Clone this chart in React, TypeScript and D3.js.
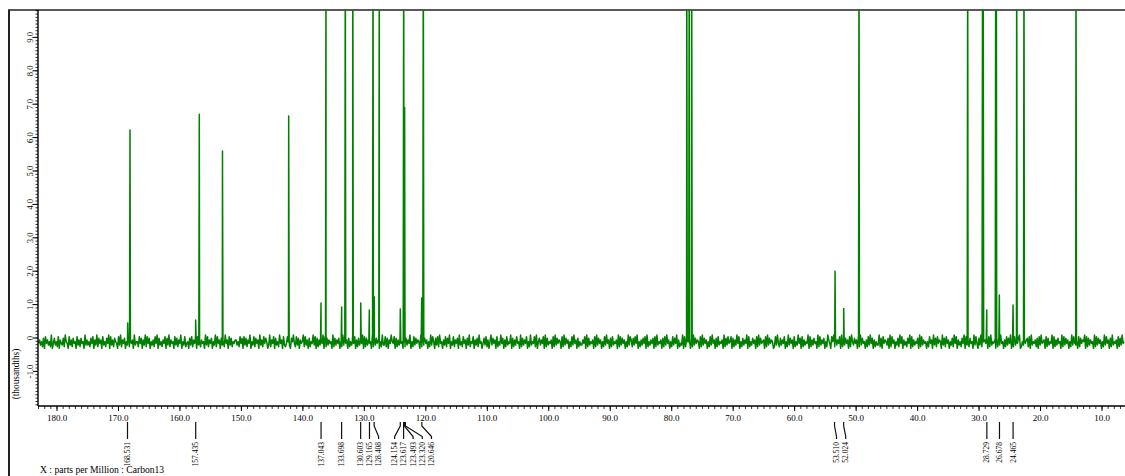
import React from "react";
import * as d3 from "d3";

// ---- data ----
const xTickValues = [180, 170, 160, 150, 140, 130, 120, 110, 100, 90, 80, 70, 60, 50, 40, 30, 20, 10];
const yTickValues = [-1, 0, 1, 2, 3, 4, 5, 6, 7, 8, 9];
const yTickLabels = ["-1.0", "0", "1.0", "2.0", "3.0", "4.0", "5.0", "6.0", "7.0", "8.0", "9.0"];

// peak positions (ppm) and heights (thousandths); 12 = off scale
const peakPpm = [168.5, 168.12, 157.44, 156.85, 153.08, 142.31, 137.05, 136.24, 133.69, 133.1, 131.88, 130.59, 129.19, 128.59, 128.38, 127.57, 124.15, 123.6, 123.45, 120.67, 120.41, 77.55, 77.15, 76.75, 53.43, 52.02, 49.53, 31.85, 29.43, 29.33, 28.75, 27.29, 27.19, 26.7, 24.47, 23.88, 22.69, 14.23];
const peakHeight = [0.45, 6.23, 0.54, 6.7, 5.6, 6.65, 1.05, 12, 0.93, 12, 12, 1.05, 0.84, 12, 1.23, 12, 0.87, 12, 6.9, 1.2, 12, 12, 12, 12, 2.0, 0.88, 12, 12, 12, 12, 0.84, 12, 12, 1.29, 0.99, 12, 12, 12];

// peak pick labels
const labelPpm = [168.531, 157.435, 137.043, 133.698, 130.603, 129.165, 128.408, 124.154, 123.617, 123.493, 123.32, 120.646, 53.51, 52.024, 28.729, 26.678, 24.465];
const labelText = ["168.531", "157.435", "137.043", "133.698", "130.603", "129.165", "128.408", "124.154", "123.617", "123.493", "123.320", "120.646", "53.510", "52.024", "28.729", "26.678", "24.465"];

// baseline noise levels, one digit per sample from 183.0 ppm down to 6.4 ppm
const noiseStartPpm = 183.0;
const noiseEndPpm = 6.4;
const noiseDigits =
  "46352718463529147352816437295418362745183627451936" +
  "35274816392746183527491836275418392647153827461935" +
  "52847163928471536284917352648173926451837264915382" +
  "45173826491837264519382647153928461735294618372546" +
  "63528471837264915382746193628475139264817352946183" +
  "24863175942837164592836172549381726354918273645192" +
  "73647152938461725394816273549182736451928374615293" +
  "38271649548172639451827364915283746519283746152938" +
  "51738294516382749153826471935284617392548163729451" +
  "47382615937461825394716283549172638451927364815293" +
  "54829157364819273546182937465182937461528394617253" +
  "36481927354618293746152839461728354619283746152938" +
  "62738491526374819253647182935461728394615283749162" +
  "43918276541829374651829374615283946172835461927384" +
  "58172639481527364918253746182937456182937465128394" +
  "27364815293746182539471826354918263745192836471529" +
  "64185927364819253746182953746182937451628394716253" +
  "39271846537192846153729481635274918263547192836451" +
  "52846193728465193728461537294816352749183627451938" +
  "41739285647182935461827394516283749152836479125384" +
  "67281935462718394561827354918263745192837461529384" +
  "35182746591827364519283746152938461729354618273945";
const noiseCenter = -0.11;
const noiseUnit = 0.05;

const SERIF = "'Liberation Serif', 'Times New Roman', Times, serif";
const GREEN = "#008000";

function spreadLabels(xs: number[], gap: number): number[] {
  type G = { idx: number[]; lo: number; hi: number; center: number };
  const groups: G[] = xs.map((v, i) => ({ idx: [i], lo: v, hi: v, center: v }));
  let changed = true;
  while (changed) {
    changed = false;
    for (let i = 0; i < groups.length - 1; i++) {
      const a = groups[i];
      const b = groups[i + 1];
      const aEnd = a.center + ((a.idx.length - 1) * gap) / 2;
      const bStart = b.center - ((b.idx.length - 1) * gap) / 2;
      if (bStart - aEnd < gap) {
        const lo = Math.min(a.lo, b.lo);
        const hi = Math.max(a.hi, b.hi);
        groups.splice(i, 2, { idx: [...a.idx, ...b.idx], lo, hi, center: (lo + hi) / 2 + 2 });
        changed = true;
        break;
      }
    }
  }
  const out: number[] = new Array(xs.length);
  groups.forEach((g) =>
    g.idx.forEach((id, k) => {
      out[id] = g.center + (k - (g.idx.length - 1) / 2) * gap;
    })
  );
  return out;
}

export default function App() {
  const W = 1125;
  const H = 476;
  const left = 38;
  const top = 10;
  const bottom = 406;
  const right = 1125;

  const x = d3.scaleLinear().domain([180, 10]).range([57, 1102]);
  const y = d3.scaleLinear().domain([0, 9]).range([338, 37.4]);

  const step = (noiseStartPpm - noiseEndPpm) / (noiseDigits.length - 1);
  const pts: { ppm: number; v: number }[] = noiseDigits
    .split("")
    .map((c, i) => ({ ppm: noiseStartPpm - i * step, v: noiseCenter + (+c - 5) * noiseUnit }));
  const w = 0.08;
  peakPpm.forEach((p, i) => {
    pts.push({ ppm: p + w, v: noiseCenter });
    pts.push({ ppm: p, v: peakHeight[i] });
    pts.push({ ppm: p - w, v: noiseCenter });
  });
  pts.sort((a, b) => b.ppm - a.ppm);

  const line = d3
    .line<{ ppm: number; v: number }>()
    .x((d) => x(d.ppm))
    .y((d) => y(d.v));

  const xMinor = d3.range(6, 184).filter((v) => x(v) >= left && x(v) <= right);
  const yMinor = d3.range(-21, 100).map((v) => v / 10).filter((v) => y(v) >= top && y(v) <= bottom);

  const labelPeakX = labelPpm.map((p) => x(p));
  const labelX = spreadLabels(labelPeakX, 9.2);

  return (
    <svg
      width={W}
      height={H}
      style={{ position: "absolute", left: 0, top: 0, background: "#fff" }}
      fontFamily={SERIF}
    >
      <defs>
        <clipPath id="plotClip">
          <rect x={left} y={top} width={right - left} height={bottom - top} />
        </clipPath>
      </defs>

      {/* outer frame */}
      <line x1={9} y1={10} x2={9} y2={H} stroke="#222" strokeWidth={2} />
      <line x1={8} y1={10} x2={W} y2={10} stroke="#222" strokeWidth={1.6} />

      {/* spectrum */}
      <g clipPath="url(#plotClip)">
        <path d={line(pts) || ""} fill="none" stroke={GREEN} strokeWidth={1.5} strokeLinejoin="round" />
      </g>

      {/* y axis */}
      <line x1={left} y1={top} x2={left} y2={bottom} stroke="#000" strokeWidth={1.4} />
      {yMinor.map((v, i) => (
        <line key={"ym" + i} x1={left - 2.5} x2={left} y1={y(v)} y2={y(v)} stroke="#000" strokeWidth={0.8} />
      ))}
      {yTickValues.map((v, i) => (
        <g key={"yt" + i}>
          <line x1={left - 5} x2={left} y1={y(v)} y2={y(v)} stroke="#000" strokeWidth={1} />
          <text
            transform={`translate(30,${y(v)}) rotate(-90)`}
            textAnchor="middle"
            dy="0.35em"
            fontSize={8.6}
            fill="#000"
          >
            {yTickLabels[i]}
          </text>
        </g>
      ))}
      <text transform={`translate(16,374) rotate(-90)`} textAnchor="middle" dy="0.35em" fontSize={9.3} fill="#000">
        (thousandths)
      </text>

      {/* x axis */}
      <line x1={left} y1={bottom} x2={right} y2={bottom} stroke="#000" strokeWidth={1.4} />
      {xMinor.map((v, i) => (
        <line key={"xm" + i} x1={x(v)} x2={x(v)} y1={bottom} y2={bottom + 3} stroke="#000" strokeWidth={0.8} />
      ))}
      {xTickValues.map((v, i) => (
        <g key={"xt" + i}>
          <line x1={x(v)} x2={x(v)} y1={bottom} y2={bottom + 5} stroke="#000" strokeWidth={1} />
          <text x={x(v)} y={420.5} textAnchor="middle" fontSize={9} fill="#000">
            {v.toFixed(1)}
          </text>
        </g>
      ))}

      {/* peak labels */}
      {labelPpm.map((p, i) => {
        const px = labelPeakX[i];
        const lx = labelX[i];
        const d = Math.abs(px - lx) < 0.5
          ? `M${px},422 L${px},439`
          : `M${px},422 L${px},426 L${lx},436.5 L${lx},439`;
        return (
          <g key={"pl" + i}>
            <path d={d} fill="none" stroke="#111" strokeWidth={1.2} />
            <text
              transform={`translate(${lx},442) rotate(-90)`}
              textAnchor="end"
              dy="0.35em"
              fontSize={7.5}
              fill="#000"
            >
              {labelText[i]}
            </text>
          </g>
        );
      })}

      <text x={40} y={473} fontSize={9.6} fill="#000">
        X : parts per Million : Carbon13
      </text>
    </svg>
  );
}
